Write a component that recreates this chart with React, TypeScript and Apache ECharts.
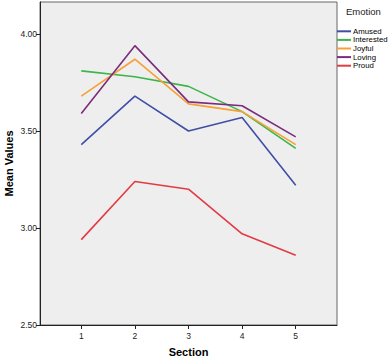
import React, { useEffect, useRef } from "react";
import * as echarts from "echarts";

const sections = [1, 2, 3, 4, 5];
const amused = [3.43, 3.68, 3.5, 3.57, 3.22];
const interested = [3.81, 3.78, 3.73, 3.6, 3.41];
const joyful = [3.68, 3.87, 3.64, 3.6, 3.43];
const loving = [3.59, 3.94, 3.65, 3.63, 3.47];
const proud = [2.94, 3.24, 3.2, 2.97, 2.86];
const seriesNames = ["Amused", "Interested", "Joyful", "Loving", "Proud"];
const seriesData = [amused, interested, joyful, loving, proud];
const colors = ["#3f4fa6", "#3cb54a", "#f6a035", "#7b2c7d", "#e23b43"];
const yTicks = [2.5, 3.0, 3.5, 4.0];

const FONT = "'Liberation Sans', Arial, sans-serif";

export default function App() {
  const ref = useRef<HTMLDivElement>(null);
  useEffect(() => {
    const chart = echarts.init(ref.current!, null, { renderer: "svg" });
    chart.setOption({
      animation: false,
      textStyle: { fontFamily: FONT },
      grid: {
        left: 40,
        top: 2,
        width: 297,
        height: 323,
        containLabel: false,
        outerBoundsMode: "none",
        show: true,
        backgroundColor: "#eeeeee",
        borderColor: "#666",
        borderWidth: 1,
      },
      legend: {
        orient: "vertical",
        left: 332,
        top: 22,
        itemWidth: 14,
        itemHeight: 2,
        itemGap: 0,
        icon: "rect",
        data: seriesNames,
        textStyle: { fontSize: 7.8, color: "#000", lineHeight: 8.6, padding: [0, 0, 0, -3] },
      },
      graphic: [
        {
          type: "text",
          left: 346,
          top: 6,
          style: { text: "Emotion", fontSize: 9.5, fill: "#222", fontFamily: FONT },
        },
      ],
      xAxis: {
        type: "value",
        min: 0.23,
        max: 5.77,
        name: "Section",
        nameLocation: "middle",
        nameGap: 21,
        nameMoveOverlap: false,
        nameTextStyle: { fontSize: 11, fontWeight: "bold", color: "#000" },
        axisLine: { show: true, lineStyle: { color: "#222" } },
        axisTick: { show: true, customValues: sections, length: 4, lineStyle: { color: "#222" } },
        axisLabel: { customValues: sections, fontSize: 8.5, color: "#222", margin: 6 },
        splitLine: { show: false },
      },
      yAxis: {
        type: "value",
        min: 2.5,
        max: 4.165,
        name: "Mean Values",
        nameLocation: "middle",
        nameGap: 26,
        nameMoveOverlap: false,
        nameTextStyle: { fontSize: 11, fontWeight: "bold", color: "#000" },
        axisLine: { show: true, lineStyle: { color: "#222" } },
        axisTick: { show: true, customValues: yTicks, length: 4, lineStyle: { color: "#222" } },
        axisLabel: {
          customValues: yTicks,
          fontSize: 8.5,
          color: "#222",
          margin: 3,
          formatter: (v: number) => v.toFixed(2),
        },
        splitLine: { show: false },
      },
      series: seriesNames.map((name, i) => ({
        name,
        type: "line",
        data: sections.map((s, j) => [s, seriesData[i][j]]),
        showSymbol: false,
        symbol: "none",
        lineStyle: { width: 1.6, color: colors[i] },
        itemStyle: { color: colors[i] },
      })),
    });
    return () => chart.dispose();
  }, []);
  return <div ref={ref} style={{ width: 391, height: 358, position: "absolute", left: 0, top: 0 }} />;
}
